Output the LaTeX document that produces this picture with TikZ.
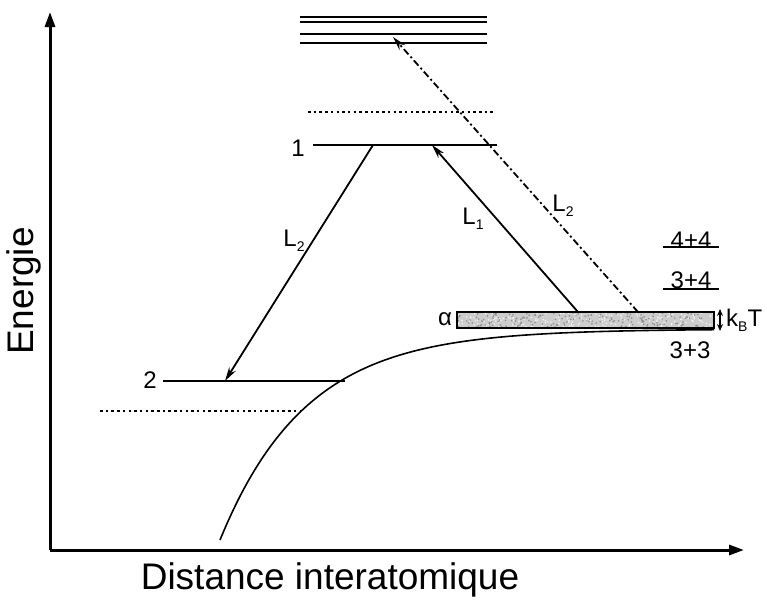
\documentclass[tikz,border=0pt]{standalone}
\usepackage{fontspec}
\setmainfont{Liberation Sans}
\usetikzlibrary{arrows.meta}
\begin{document}
\begin{tikzpicture}[x=1pt,y=-1pt,
  axis/.style={line width=3pt,-{Triangle[length=15pt,width=10pt]}},
  level/.style={line width=2.4pt},
  dotlevel/.style={line width=2.4pt,dash pattern=on 2.5pt off 3.2pt},
  trans/.style={line width=1.8pt,-{Stealth[length=14pt,width=7.5pt]}},
  transdd/.style={line width=1.8pt,dash pattern=on 7pt off 3pt on 2pt off 3pt,-{Stealth[length=14pt,width=7.5pt]}},
  lab/.style={font=\fontsize{24}{27}\selectfont, inner sep=0pt},
  biglab/.style={font=\fontsize{37}{40}\selectfont, inner sep=0pt}]
\useasboundingbox (0,0) rectangle (767,600);
% axes
\coordinate (O) at (50,550);
\coordinate (ytop) at (50,12);
\coordinate (xend) at (744,550);
\draw[axis] (O) -- (ytop);
\draw[axis] (O) -- (xend);
\node[biglab,rotate=90] (energie) at (24,291) {Energie};
\node[biglab] (dist) at (330,580) {Distance interatomique};
% potential curve
\draw[line width=1.6pt] plot[domain=220:714,samples=120,smooth] (\x,{329+211*exp(-(\x-220)/86)});
% upper levels
\foreach \yy/\nm in {17/a,22/b,34/c,43/d}{
  \coordinate (u\nm l) at (300,\yy);
  \coordinate (u\nm r) at (487,\yy);
  \draw[level] (u\nm l) -- (u\nm r);
}
\coordinate (dt1l) at (308,112); \coordinate (dt1r) at (496,112);
\draw[dotlevel] (dt1l) -- (dt1r);
% level 1
\coordinate (l1l) at (313,145); \coordinate (l1r) at (497,145);
\draw[level] (l1l) -- (l1r);
\node[lab] (n1) at (298,148) {1};
% level 2
\coordinate (l2l) at (163,381); \coordinate (l2r) at (345,381);
\draw[level] (l2l) -- (l2r);
\node[lab] (n2) at (150,380) {2};
\coordinate (dt2l) at (100,411); \coordinate (dt2r) at (300,411);
\draw[dotlevel] (dt2l) -- (dt2r);
% alpha box (speckled grey)
\fill[black!20] (457,312) rectangle (714,328);
\pgfmathsetseed{7}
\begin{scope}
\clip (457,312) rectangle (714,328);
\foreach \i in {1,...,420}{
  \pgfmathsetmacro{\px}{457+257*rnd}
  \pgfmathsetmacro{\py}{312+16*rnd}
  \pgfmathsetmacro{\pc}{rnd>0.5 ? 45 : 5}
  \fill[black!\pc] (\px,\py) circle (0.9pt);
}
\end{scope}
\draw[line width=1.3pt] (457,312) rectangle (714,328);
\node[lab] (alpha) at (445,319) {α};
% kBT
\coordinate (kt) at (720,309); \coordinate (kb) at (720,331);
\draw[line width=1.3pt,{Stealth[length=7pt,width=6pt]}-{Stealth[length=7pt,width=6pt]}] (kt) -- (kb);
\node[lab,anchor=west] (kbt) at (726,320) {k\raisebox{-0.4ex}{\fontsize{14}{15}\selectfont B}T};
% dissociation limits
\node[lab] (s44) at (691,240) {4+4};
\coordinate (u44l) at (663,247); \coordinate (u44r) at (719,247);
\draw[line width=1.5pt] (u44l) -- (u44r);
\node[lab] (s34) at (691,280) {3+4};
\coordinate (u34l) at (663,289); \coordinate (u34r) at (719,289);
\draw[line width=1.5pt] (u34l) -- (u34r);
\node[lab] (s33) at (690,350) {3+3};
% transitions
\coordinate (a1s) at (373,145); \coordinate (a1e) at (225,381);
\draw[trans] (a1s) -- (a1e);
\node[lab] (L2a) at (294,241) {L\raisebox{-0.4ex}{\fontsize{14}{15}\selectfont 2}};
\coordinate (a2s) at (578,312); \coordinate (a2e) at (432,145);
\draw[trans] (a2s) -- (a2e);
\node[lab] (L1) at (473,219) {L\raisebox{-0.4ex}{\fontsize{14}{15}\selectfont 1}};
\coordinate (a3s) at (638,312); \coordinate (a3e) at (393,37);
\draw[transdd] (a3s) -- (a3e);
\node[lab] (L2b) at (563,206) {L\raisebox{-0.4ex}{\fontsize{14}{15}\selectfont 2}};
\end{tikzpicture}
\end{document}
